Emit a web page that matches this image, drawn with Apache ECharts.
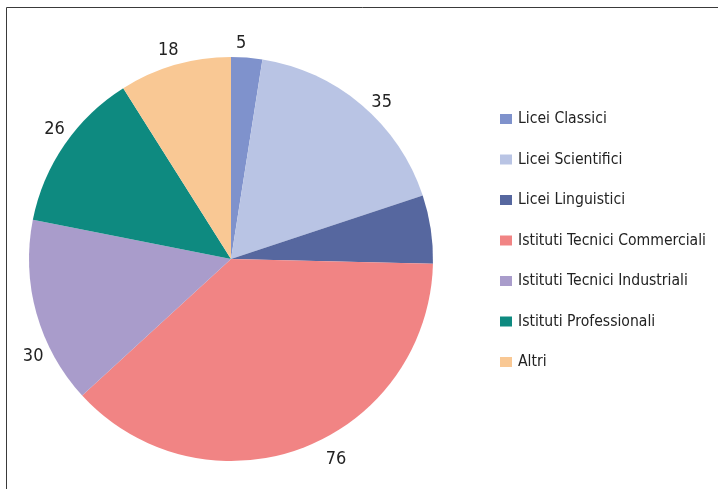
<!DOCTYPE html>
<html>
<head>
<meta charset="utf-8">
<script src="https://cdn.jsdelivr.net/npm/echarts@6/dist/echarts.min.js"></script>
<style>
  html, body { margin: 0; padding: 0; background: #fff; }
  #chart { width: 718px; height: 489px; }
</style>
</head>
<body>
<div id="chart"></div>
<script>
// School types and number of students per type
const categories = [
  'Licei Classici',
  'Licei Scientifici',
  'Licei Linguistici',
  'Istituti Tecnici Commerciali',
  'Istituti Tecnici Industriali',
  'Istituti Professionali',
  'Altri'
];
const values = [5, 35, 11, 76, 30, 26, 18];
const showValue = [true, true, false, true, true, true, true];
const colors = ['#7f92cc', '#b9c4e4', '#56679f', '#f18484', '#a99ccb', '#0e8a80', '#f9c894'];

const FONT = '"DejaVu Sans Condensed", "Liberation Sans Narrow", "Liberation Sans", sans-serif';

const CENTER = [231, 259];
const RADIUS = 202;
const LABEL_GAP = 17;           // distance of value labels beyond the rim
const labelNudge = [[-7, 3], [9, 10], [0, 0], [28, -5], [13, 38], [4, -6], [-2, 2]];

const chart = echarts.init(document.getElementById('chart'), null, { renderer: 'canvas' });

chart.setOption({
  animation: false,
  backgroundColor: '#fff',
  graphic: [{
    type: 'rect',
    shape: { x: 6.5, y: 7.5, width: 740, height: 520 },
    style: { fill: 'none', stroke: '#3a3a3a', lineWidth: 1 },
    silent: true
  }],
  legend: {
    orient: 'vertical',
    left: 500,
    top: 111,
    padding: 0,
    itemWidth: 12,
    itemHeight: 10,
    itemGap: 24.5,
    icon: 'rect',
    textStyle: { fontFamily: FONT, fontSize: 15.6, color: '#222', lineHeight: 16, padding: [0, 0, 0, 1] },
    data: categories
  },
  series: [{
    type: 'pie',
    center: CENTER,
    radius: RADIUS,
    startAngle: 90,
    clockwise: true,
    avoidLabelOverlap: false,
    label: {
      show: true,
      position: 'outside',
      fontFamily: FONT,
      fontSize: 18,
      color: '#222',
      formatter: '{c}'
    },
    labelLine: { show: true, length: 4, length2: 0, lineStyle: { opacity: 0 } },
    // put each value label near the slice's bisector, a little outside the rim
    labelLayout: function (params) {
      const pts = params.labelLinePoints;
      if (!pts) return {};
      const dx = pts[0][0] - CENTER[0];
      const dy = pts[0][1] - CENTER[1];
      const len = Math.sqrt(dx * dx + dy * dy) || 1;
      const r = RADIUS + LABEL_GAP;
      const n = labelNudge[params.dataIndex];
      return {
        x: CENTER[0] + dx / len * r + n[0],
        y: CENTER[1] + dy / len * r + n[1],
        align: 'center',
        verticalAlign: 'middle'
      };
    },
    emphasis: { disabled: true },
    data: categories.map((name, i) => ({
      name: name,
      value: values[i],
      itemStyle: { color: colors[i] },
      label: { show: showValue[i] }
    }))
  }]
});
</script>
</body>
</html>
